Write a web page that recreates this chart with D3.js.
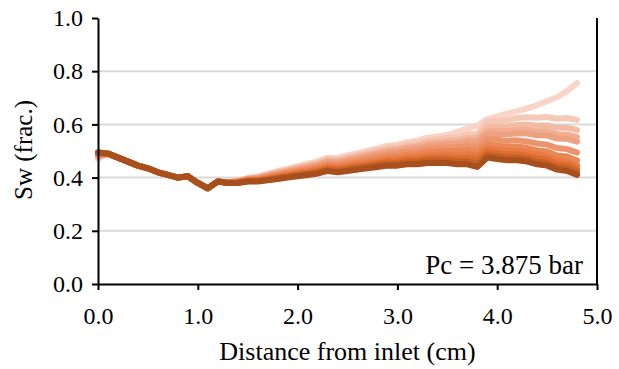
<!DOCTYPE html>
<html>
<head>
<meta charset="utf-8">
<script src="https://cdn.jsdelivr.net/npm/d3@7"></script>
<style>
  body { margin: 0; background: #fff; }
</style>
</head>
<body>
<div id="chart"></div>
<script>
// distance from inlet (cm)
const distance = [0.0,0.1,0.2,0.3,0.4,0.5,0.6,0.7,0.8,0.9,1.0,1.1,1.2,1.3,1.4,1.5,1.6,1.7,1.8,1.9,2.0,2.1,2.2,2.3,2.4,2.5,2.6,2.7,2.8,2.9,3.0,3.1,3.2,3.3,3.4,3.5,3.6,3.7,3.8,3.9,4.0,4.1,4.2,4.3,4.4,4.5,4.6,4.7,4.8];

// water saturation profiles, lightest (first) to darkest (last)
const sw1  = [0.470,0.490,0.475,0.460,0.445,0.435,0.420,0.410,0.400,0.405,0.380,0.360,0.385,0.383,0.388,0.399,0.404,0.414,0.424,0.434,0.443,0.452,0.461,0.474,0.474,0.483,0.492,0.501,0.510,0.520,0.524,0.534,0.539,0.550,0.555,0.560,0.572,0.584,0.595,0.620,0.630,0.640,0.650,0.660,0.672,0.688,0.702,0.725,0.755];
const sw2  = [0.475,0.490,0.475,0.460,0.445,0.435,0.420,0.410,0.400,0.405,0.380,0.360,0.385,0.383,0.388,0.397,0.402,0.412,0.422,0.430,0.439,0.448,0.457,0.470,0.468,0.477,0.486,0.495,0.504,0.512,0.516,0.526,0.531,0.541,0.545,0.550,0.553,0.562,0.564,0.610,0.613,0.616,0.624,0.627,0.625,0.628,0.621,0.624,0.617];
const sw3  = [0.478,0.490,0.475,0.460,0.445,0.435,0.420,0.410,0.400,0.405,0.380,0.360,0.385,0.383,0.387,0.396,0.400,0.410,0.419,0.427,0.436,0.444,0.452,0.465,0.463,0.472,0.480,0.489,0.497,0.505,0.509,0.518,0.522,0.532,0.536,0.540,0.542,0.550,0.551,0.590,0.591,0.592,0.598,0.599,0.595,0.596,0.587,0.588,0.579];
const sw4  = [0.480,0.490,0.475,0.460,0.445,0.435,0.420,0.410,0.400,0.405,0.380,0.360,0.385,0.382,0.386,0.395,0.399,0.408,0.417,0.425,0.433,0.441,0.449,0.462,0.460,0.468,0.476,0.484,0.492,0.500,0.504,0.512,0.516,0.525,0.529,0.533,0.534,0.542,0.541,0.575,0.575,0.574,0.579,0.579,0.573,0.573,0.563,0.562,0.552];
const sw5  = [0.483,0.490,0.475,0.460,0.445,0.435,0.420,0.410,0.400,0.405,0.380,0.360,0.385,0.382,0.386,0.394,0.398,0.406,0.415,0.422,0.430,0.438,0.446,0.458,0.456,0.464,0.471,0.479,0.487,0.495,0.498,0.506,0.510,0.518,0.522,0.525,0.526,0.533,0.531,0.565,0.564,0.563,0.567,0.566,0.559,0.558,0.547,0.546,0.535];
const sw6  = [0.486,0.490,0.475,0.460,0.445,0.435,0.420,0.410,0.400,0.405,0.380,0.360,0.385,0.382,0.385,0.393,0.395,0.403,0.411,0.419,0.426,0.433,0.441,0.452,0.450,0.457,0.464,0.472,0.479,0.486,0.489,0.496,0.499,0.507,0.510,0.513,0.513,0.518,0.515,0.545,0.542,0.538,0.540,0.536,0.528,0.524,0.511,0.507,0.494];
const sw7  = [0.488,0.490,0.475,0.460,0.445,0.435,0.420,0.410,0.400,0.405,0.380,0.360,0.385,0.381,0.384,0.391,0.393,0.400,0.408,0.414,0.421,0.428,0.435,0.446,0.443,0.450,0.457,0.463,0.470,0.477,0.479,0.486,0.488,0.496,0.498,0.500,0.499,0.503,0.499,0.525,0.520,0.516,0.516,0.512,0.502,0.498,0.483,0.479,0.464];
const sw8  = [0.490,0.490,0.475,0.460,0.445,0.435,0.420,0.410,0.400,0.405,0.380,0.360,0.385,0.381,0.383,0.389,0.391,0.397,0.404,0.410,0.417,0.423,0.429,0.440,0.436,0.443,0.449,0.455,0.461,0.468,0.469,0.476,0.477,0.484,0.485,0.487,0.485,0.488,0.482,0.510,0.505,0.500,0.500,0.495,0.485,0.480,0.465,0.460,0.445];
const sw9  = [0.492,0.490,0.475,0.460,0.445,0.435,0.420,0.410,0.400,0.405,0.380,0.360,0.385,0.381,0.382,0.388,0.389,0.395,0.401,0.407,0.413,0.418,0.424,0.435,0.431,0.437,0.442,0.448,0.454,0.460,0.461,0.467,0.468,0.474,0.475,0.476,0.473,0.475,0.467,0.497,0.492,0.487,0.487,0.482,0.472,0.467,0.452,0.447,0.432];
const sw10 = [0.494,0.490,0.475,0.460,0.445,0.435,0.420,0.410,0.400,0.405,0.380,0.360,0.385,0.380,0.381,0.386,0.387,0.392,0.398,0.403,0.409,0.414,0.419,0.430,0.425,0.431,0.436,0.441,0.447,0.452,0.453,0.458,0.459,0.464,0.465,0.465,0.461,0.462,0.453,0.485,0.480,0.475,0.475,0.470,0.460,0.455,0.440,0.435,0.420];
const sw11 = [0.495,0.490,0.475,0.460,0.445,0.435,0.420,0.410,0.400,0.405,0.380,0.360,0.385,0.380,0.380,0.385,0.385,0.390,0.395,0.400,0.405,0.410,0.415,0.425,0.420,0.425,0.430,0.435,0.440,0.445,0.445,0.450,0.450,0.455,0.455,0.455,0.450,0.450,0.440,0.475,0.470,0.465,0.465,0.460,0.450,0.445,0.430,0.425,0.410];

const profiles = [sw1, sw2, sw3, sw4, sw5, sw6, sw7, sw8, sw9, sw10, sw11];
const colors = ["#f8d5c8","#f6c8b6","#f3bba4","#f1ae92","#eea180","#ec946c","#ea8757","#e87b43","#dc6d2f","#c45f25","#a8501d"];

const xTicks = [0, 1, 2, 3, 4, 5];
const yTicks = [0, 0.2, 0.4, 0.6, 0.8, 1.0];
const label = "Pc = 3.875 bar";
const font = "Liberation Serif";

// set the dimensions and margins of the graph
const margin = {top: 18, right: 22, bottom: 85, left: 98},
    width = 619 - margin.left - margin.right,
    height = 369 - margin.top - margin.bottom;

const svg = d3.select("#chart")
  .append("svg")
  .attr("width", 619)
  .attr("height", 369)
  .attr("font-family", font)
  .append("g")
  .attr("transform", `translate(${margin.left},${margin.top})`);

const x = d3.scaleLinear().domain([0, 5]).range([0, width]);
const y = d3.scaleLinear().domain([0, 1]).range([height, 0]);

// gridlines
svg.append("g")
  .selectAll("line")
  .data(yTicks.filter(d => d > 0 && d < 1))
  .join("line")
  .attr("x1", 0).attr("x2", width)
  .attr("y1", d => y(d)).attr("y2", d => y(d))
  .attr("stroke", "#d9d9d9")
  .attr("stroke-width", 2);

// lines
const line = d3.line()
  .x((d, i) => x(distance[i]))
  .y(d => y(d));

svg.append("g")
  .selectAll("path")
  .data(profiles)
  .join("path")
  .attr("d", d => line(d))
  .attr("fill", "none")
  .attr("stroke", (d, i) => colors[i])
  .attr("stroke-width", 6)
  .attr("stroke-linejoin", "round")
  .attr("stroke-linecap", "round");

// X axis
const xAxis = svg.append("g")
  .attr("transform", `translate(0,${height})`)
  .call(d3.axisBottom(x).tickValues(xTicks).tickSize(6).tickSizeOuter(0).tickFormat(d3.format(".1f")));
// Y axis
const yAxis = svg.append("g")
  .call(d3.axisLeft(y).tickValues(yTicks).tickSize(6).tickSizeOuter(0).tickFormat(d3.format(".1f")));

[xAxis, yAxis].forEach(ax => {
  ax.attr("font-family", font).attr("font-size", 24);
  ax.select(".domain").attr("stroke", "#000").attr("stroke-width", 2);
  ax.selectAll(".tick line").attr("stroke", "#000").attr("stroke-width", 2);
  ax.selectAll(".tick text").attr("fill", "#000");
});
xAxis.selectAll(".tick text").attr("dy", "0").attr("y", 40);
yAxis.selectAll(".tick text").attr("x", -15);

// right border
svg.append("line")
  .attr("x1", width).attr("x2", width)
  .attr("y1", 0).attr("y2", height)
  .attr("stroke", "#000").attr("stroke-width", 2);

// axis titles
svg.append("text")
  .attr("x", width / 2)
  .attr("y", height + 76)
  .attr("text-anchor", "middle")
  .attr("font-size", 26)
  .text("Distance from inlet (cm)");

svg.append("text")
  .attr("transform", `translate(${-66},${height / 2 - 1}) rotate(-90)`)
  .attr("text-anchor", "middle")
  .attr("font-size", 25)
  .text("Sw (frac.)");

svg.append("text")
  .attr("x", width - 14)
  .attr("y", height - 10)
  .attr("text-anchor", "end")
  .attr("font-size", 27)
  .text(label);
</script>
</body>
</html>
